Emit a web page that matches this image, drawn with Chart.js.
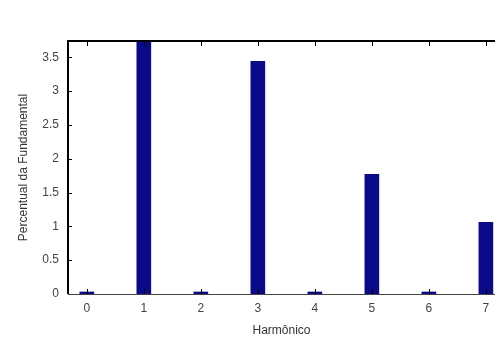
<!DOCTYPE html>
<html>
<head>
<meta charset="utf-8">
<script src="https://cdn.jsdelivr.net/npm/chart.js@4.4.0/dist/chart.umd.min.js"></script>
<style>
    html, body { margin: 0; padding: 0; background: #fff; }
    #wrap { width: 498px; height: 339px; }
</style>
</head>
<body>
<div id="wrap"><canvas id="harmChart" width="498" height="339"></canvas></div>
<script>
const harmonicos = [0, 1, 2, 3, 4, 5, 6, 7];
const percentuais = [0.03, 3.9, 0.03, 3.44, 0.03, 1.77, 0.03, 1.06];
const yTicks = [0, 0.5, 1, 1.5, 2, 2.5, 3, 3.5];

// moldura do eixo com ticks para dentro, estilo matlab
const framePlugin = {
    id: "frame",
    afterDatasetsDraw(chart) {
        const { ctx, chartArea: a, scales } = chart;
        ctx.save();
        ctx.strokeStyle = "#000";
        ctx.lineWidth = 1;
        ctx.beginPath();
        harmonicos.forEach(h => {
            const px = Math.round(scales.x.getPixelForValue(h)) + 0.5;
            ctx.moveTo(px, a.bottom); ctx.lineTo(px, a.bottom - 5);
            ctx.moveTo(px, a.top); ctx.lineTo(px, a.top + 5);
        });
        yTicks.forEach(v => {
            const py = Math.round(scales.y.getPixelForValue(v)) + 0.5;
            ctx.moveTo(a.left, py); ctx.lineTo(a.left + 4, py);
        });
        ctx.stroke();

        ctx.lineWidth = 2;
        ctx.beginPath();
        ctx.moveTo(a.left, a.bottom);
        ctx.lineTo(a.left, a.top);
        ctx.lineTo(a.right, a.top);
        ctx.stroke();

        ctx.strokeStyle = "#444";
        ctx.lineWidth = 1;
        ctx.beginPath();
        ctx.moveTo(a.left, a.bottom + 0.5);
        ctx.lineTo(a.right, a.bottom + 0.5);
        ctx.stroke();
        ctx.restore();
    }
};

new Chart(document.getElementById("harmChart"), {
    type: "bar",
    data: {
        datasets: [{
            data: harmonicos.map((h, i) => ({ x: h, y: percentuais[i] })),
            backgroundColor: "#0a0a86",
            barThickness: 14
        }]
    },
    options: {
        responsive: false,
        animation: false,
        layout: { padding: { top: 41, right: 3, left: 0, bottom: 0 } },
        plugins: { legend: { display: false }, tooltip: { enabled: false } },
        scales: {
            x: {
                type: "linear",
                offset: false,
                min: -0.33,
                max: 7.16,
                afterBuildTicks: s => { s.ticks = harmonicos.map(v => ({ value: v })); },
                afterFit: s => { s.height = 45; },
                grid: { display: false, drawTicks: false, offset: false },
                border: { display: false },
                ticks: {
                    padding: 7,
                    color: "#444",
                    font: { family: "Liberation Sans", size: 12 },
                    maxRotation: 0,
                    callback: v => String(v)
                },
                title: {
                    display: true,
                    text: "Harmônico",
                    color: "#333",
                    font: { family: "Liberation Sans", size: 12 },
                    padding: { top: 0, bottom: 1 }
                }
            },
            y: {
                min: 0,
                max: 3.74,
                afterBuildTicks: s => { s.ticks = yTicks.map(v => ({ value: v })); },
                afterFit: s => { s.width = 68; },
                grid: { display: false, drawTicks: false },
                border: { display: false },
                ticks: {
                    padding: 9,
                    color: "#444",
                    font: { family: "Liberation Sans", size: 12 },
                    callback: v => String(v)
                },
                title: {
                    display: true,
                    text: "Percentual da Fundamental",
                    color: "#333",
                    font: { family: "Liberation Sans", size: 12 },
                    padding: { top: 16, bottom: 0 }
                }
            }
        }
    },
    plugins: [framePlugin]
});
</script>
</body>
</html>
